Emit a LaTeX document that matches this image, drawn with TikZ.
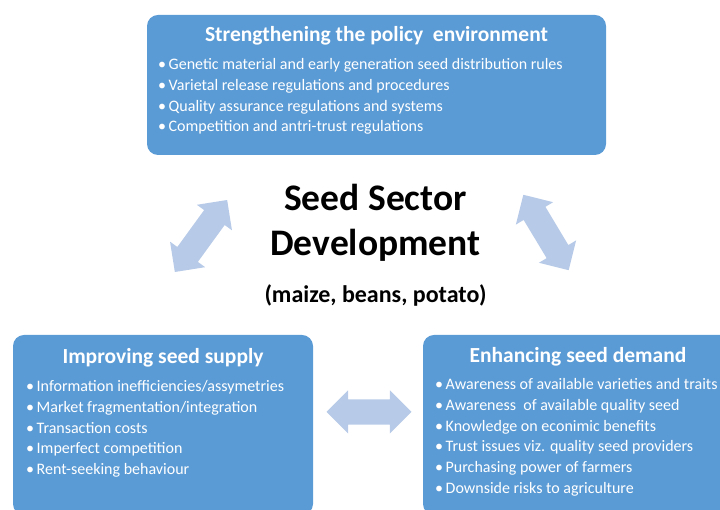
\documentclass[tikz,border=0pt]{standalone}
\usepackage{fontspec}
\setmainfont{Carlito}
\usetikzlibrary{shapes.arrows}

\definecolor{boxblue}{RGB}{91,155,213}
\definecolor{arrowblue}{RGB}{183,202,232}

\tikzset{
  areabox/.style={fill=boxblue, draw=none, rounded corners=11pt, inner sep=0pt},
  boxtitle/.style={text=white, anchor=base, inner sep=0pt, font=\fontsize{21.5}{25}\selectfont\bfseries},
  boxlist/.style={text=white, anchor=north west, inner sep=0pt, align=left, font=\fontsize{16}{20.7}\selectfont},
  centretext/.style={anchor=base, inner sep=0pt, font=\bfseries},
  linkarrow/.style={shape=double arrow, fill=arrowblue, draw=none, inner xsep=0pt, inner ysep=12.5pt,
    minimum width=43pt, minimum height=85pt, double arrow head extend=9pt}
}
\newcommand{\bul}{\makebox[10.5pt][l]{\textbullet}}

\begin{document}
\begin{tikzpicture}[x=1pt,y=1pt]
\useasboundingbox (0,0) rectangle (720,510);
\clip (0,0) rectangle (720,510);

% the three areas
\node[areabox, minimum width=459pt, minimum height=140pt] (policy) at (376.5,425) {};
\node[areabox, minimum width=300pt, minimum height=180pt] (supply) at (163,85) {};
\node[areabox, minimum width=320pt, minimum height=180pt] (demand) at (583,85) {};

\node[boxtitle] (policytitle) at (376.5,468) {Strengthening the policy\ \ environment};
\node[boxlist] (policylist) at (158,451.5) {\bul Genetic material and early generation seed distribution rules\\
\bul Varietal release regulations and procedures\\
\bul Quality assurance regulations and systems\\
\bul Competition and antri-trust regulations};

\node[boxtitle] (supplytitle) at (163,146) {Improving seed supply};
\node[boxlist] (supplylist) at (26,129.5) {\bul Information inefficiencies/assymetries\\
\bul Market fragmentation/integration\\
\bul Transaction costs\\
\bul Imperfect competition\\
\bul Rent-seeking behaviour};

\node[boxtitle] (demandtitle) at (578,147) {Enhancing seed demand};
\node[boxlist] (demandlist) at (435,131.5) {\bul Awareness of available varieties and traits\\
\bul Awareness\ \ of available quality seed\\
\bul Knowledge on econimic benefits\\
\bul Trust issues viz. quality seed providers\\
\bul Purchasing power of farmers\\
\bul Downside risks to agriculture};

% centre
\node[centretext, font=\fontsize{37.5}{42}\selectfont\bfseries] (seed) at (375.5,299.5) {Seed Sector};
\node[centretext, font=\fontsize{37.5}{42}\selectfont\bfseries] (devel) at (375.5,254) {Development};
\node[centretext, font=\fontsize{24}{28}\selectfont\bfseries] (crops) at (375.5,207) {(maize, beans, potato)};

% links between the areas
\node[linkarrow, rotate=54, minimum height=89pt] (leftlink) at (201,274) {};
\node[linkarrow, rotate=-59, minimum height=88pt] (rightlink) at (546,277.5) {};
\node[linkarrow] (bottomlink) at (369,98) {};
\end{tikzpicture}
\end{document}
